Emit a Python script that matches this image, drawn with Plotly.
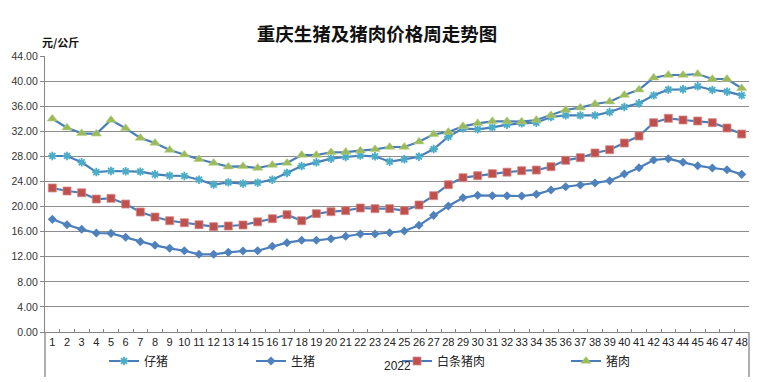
import plotly.graph_objects as go

weeks = [str(i) for i in range(1, 49)]
year_label = "2022"

piglet = [28.06, 28.06, 27.05, 25.5, 25.67, 25.62, 25.56, 25.14, 24.92, 24.87, 24.28, 23.49,
          23.86, 23.65, 23.8, 24.28, 25.35, 26.46, 27.05, 27.63, 27.9, 28.11, 28.01, 27.15,
          27.53, 27.95, 29.17, 31.13, 32.46, 32.3, 32.62, 33.05, 33.27, 33.37, 34.27, 34.54,
          34.54, 34.54, 35.07, 35.87, 36.46, 37.73, 38.63, 38.69, 39.17, 38.58, 38.31, 37.73]

live_hog = [17.96, 17.1, 16.37, 15.78, 15.73, 15.1, 14.4, 13.82, 13.34, 12.96, 12.39, 12.39,
            12.7, 12.91, 12.96, 13.66, 14.24, 14.62, 14.62, 14.87, 15.26, 15.62, 15.62, 15.83,
            16.1, 17.01, 18.6, 20.09, 21.41, 21.79, 21.73, 21.73, 21.68, 21.95, 22.64, 23.16,
            23.43, 23.75, 24.12, 25.19, 26.19, 27.42, 27.63, 27.05, 26.51, 26.14, 25.87, 25.13]

carcass = [22.96, 22.48, 22.2, 21.2, 21.31, 20.4, 19.13, 18.33, 17.74, 17.42, 17.1, 16.79,
           16.9, 17.06, 17.56, 18.06, 18.7, 17.74, 18.86, 19.18, 19.34, 19.77, 19.66, 19.66,
           19.34, 20.25, 21.73, 23.48, 24.6, 24.92, 25.24, 25.48, 25.71, 25.82, 26.35, 27.37,
           27.79, 28.54, 29.06, 30.13, 31.25, 33.37, 34.07, 33.8, 33.64, 33.37, 32.52, 31.56]

pork = [34.0, 32.57, 31.67, 31.6, 33.8, 32.47, 30.93, 30.13, 29.01, 28.27, 27.53, 26.94,
        26.36, 26.41, 26.15, 26.62, 26.94, 28.22, 28.22, 28.64, 28.69, 28.9, 29.12, 29.49,
        29.49, 30.34, 31.51, 31.88, 32.79, 33.27, 33.59, 33.59, 33.53, 33.8, 34.55, 35.39,
        35.76, 36.35, 36.71, 37.78, 38.63, 40.54, 40.97, 40.97, 41.13, 40.33, 40.33, 38.85]

y_ticks = [0, 4, 8, 12, 16, 20, 24, 28, 32, 36, 40, 44]
y_tick_text = ["%.2f" % v for v in y_ticks]

W, H = 774, 382
L, R, T, B = 45, 25, 56, 50
PW, PH = W - L - R, H - T - B


def px_x(px):
    return (px - L) / PW


def px_y(py):
    return (H - B - py) / PH


LINE = "#4a7ebb"
series = [
    ("仔猪", piglet, dict(symbol="asterisk-open", size=7, color="#4bacc6",
                        line=dict(color="#4bacc6", width=1.8)), "legend"),
    ("生猪", live_hog, dict(symbol="diamond", size=7, color="#4f81bd",
                          line=dict(color="#4f81bd", width=0)), "legend2"),
    ("白条猪肉", carcass, dict(symbol="square", size=8, color="#c0504d",
                            line=dict(color="#d58a88", width=0.8)), "legend3"),
    ("猪肉", pork, dict(symbol="triangle-up", size=9, color="#9bbb59",
                       line=dict(color="#b5cf85", width=0.6)), "legend4"),
]

fig = go.Figure()
for name, vals, mk, lg in series:
    fig.add_trace(go.Scatter(x=weeks, y=vals, name=name, mode="lines+markers",
                             line=dict(color=LINE, width=2.2), marker=mk, legend=lg))

legend_left = [104, 251, 397, 566]
leg_common = dict(orientation="h", yanchor="middle", xanchor="left", y=px_y(361),
                  bgcolor="rgba(0,0,0,0)", font=dict(size=12, color="#222222",
                                                     family="Noto Sans CJK SC"))
fig.update_layout(
    legend=dict(x=px_x(legend_left[0]), **leg_common),
    legend2=dict(x=px_x(legend_left[1]), **leg_common),
    legend3=dict(x=px_x(legend_left[2]), **leg_common),
    legend4=dict(x=px_x(legend_left[3]), **leg_common),
)

fig.update_layout(
    width=W, height=H,
    margin=dict(l=L, r=R, t=T, b=B, autoexpand=False),
    paper_bgcolor="white", plot_bgcolor="white",
    font=dict(family="Liberation Sans, Arial, sans-serif", color="#333333"),
    showlegend=True,
    title=dict(text="<b>重庆生猪及猪肉价格周走势图</b>", xref="container", x=377 / W,
               xanchor="center", y=(H - 35) / H, yanchor="middle",
               font=dict(size=18.5, family="Noto Sans CJK SC", color="#111111")),
    xaxis=dict(type="category", tickson="boundaries", ticks="inside", ticklen=3,
               tickcolor="#868686", showgrid=False, showline=True, linecolor="#868686",
               linewidth=1.3, tickfont=dict(size=11, color="#222222"), tickangle=0,
               range=[-0.5, 47.5], fixedrange=True),
    yaxis=dict(range=[0, 44], tickvals=y_ticks, ticktext=y_tick_text, ticks="outside",
               ticklen=4, tickcolor="#868686", showgrid=True, gridcolor="#8c8c8c",
               gridwidth=1.2, showline=True, linecolor="#868686", linewidth=1.3,
               zeroline=False, tickfont=dict(size=10.5, color="#333333"),
               fixedrange=True),
)

# extended axis boundary lines below the category axis
for xp in (0, 1):
    fig.add_shape(type="line", xref="paper", yref="paper", x0=xp, x1=xp,
                  y0=0, y1=px_y(377), line=dict(color="#868686", width=1.3))

fig.add_annotation(text=year_label, xref="paper", yref="paper", x=px_x(397), y=px_y(366),
                   showarrow=False, xanchor="center", yanchor="middle",
                   font=dict(size=12, color="#222222"))
fig.add_annotation(text="<b>元/公斤</b>", xref="paper", yref="paper", x=px_x(40), y=px_y(42),
                   showarrow=False, xanchor="left", yanchor="middle",
                   font=dict(size=11, color="#111111", family="Noto Sans CJK SC"))

fig.write_html("out.html", config={"displayModeBar": False},
               post_script="document.body.style.margin='0';")
